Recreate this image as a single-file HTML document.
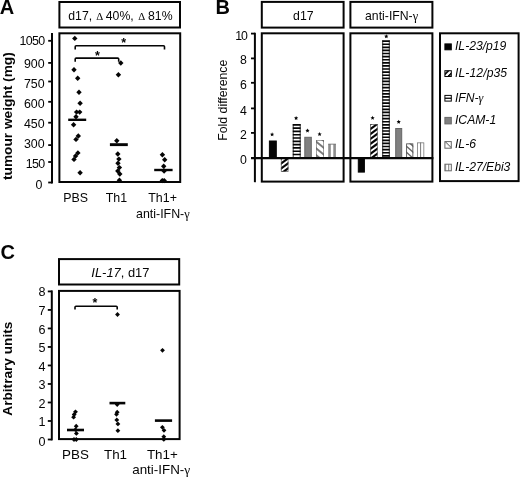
<!DOCTYPE html>
<html><head><meta charset="utf-8"><title>Figure</title>
<style>
html,body{margin:0;padding:0;background:#fff;}
body{width:520px;height:478px;overflow:hidden;font-family:"Liberation Sans",sans-serif;}
svg{display:block;will-change:transform;}
svg text{font-family:"Liberation Sans",sans-serif;fill:#050505;}
</style></head><body>
<svg width="520" height="478" viewBox="0 0 520 478">
<rect width="520" height="478" fill="#fff"/>
<defs>
<pattern id="pd2" width="20" height="5.5" patternUnits="userSpaceOnUse" patternTransform="translate(444.9 73) skewY(-45)"><rect width="20" height="5.5" fill="#fff"/><rect width="20" height="2.6" fill="#111"/></pattern>
<pattern id="pl2" width="20" height="8" patternUnits="userSpaceOnUse" patternTransform="translate(444.9 140.6) skewY(45)"><rect width="20" height="8" fill="#fff"/><rect width="20" height="1.4" fill="#777"/></pattern>
<pattern id="pv2" width="3.2" height="20" patternUnits="userSpaceOnUse" patternTransform="translate(444.9 0)"><rect width="3.2" height="20" fill="#fff"/><rect width="1.1" height="20" x="0" fill="#999"/></pattern>
</defs>
<text x="-0.20" y="14.30" font-size="20" text-anchor="start" font-weight="bold" font-style="normal">A</text>
<rect x="59.40" y="2.00" width="120.60" height="25.50" fill="none" stroke="#050505" stroke-width="2"/>
<text x="68.30" y="19.90" font-size="12.25" text-anchor="start" font-weight="normal" font-style="normal">d17,</text>
<text x="99.65" y="19.90" font-size="10.8" text-anchor="middle" font-weight="normal" font-style="normal" style="font-family:Liberation Serif,serif">Δ</text>
<text x="105.80" y="19.90" font-size="12.25" text-anchor="start" font-weight="normal" font-style="normal">40%,</text>
<text x="141.65" y="19.90" font-size="10.8" text-anchor="middle" font-weight="normal" font-style="normal" style="font-family:Liberation Serif,serif">Δ</text>
<text x="148.00" y="19.90" font-size="12.25" text-anchor="start" font-weight="normal" font-style="normal">81%</text>
<rect x="59.40" y="33.30" width="120.80" height="148.70" fill="none" stroke="#050505" stroke-width="2"/>
<line x1="52.00" y1="33.00" x2="52.00" y2="183.50" stroke="#050505" stroke-width="2"/>
<line x1="48.20" y1="182.50" x2="52.00" y2="182.50" stroke="#050505" stroke-width="1.8"/>
<text x="42.40" y="189.00" font-size="12.4" text-anchor="end" font-weight="normal" font-style="normal">0</text>
<line x1="48.20" y1="162.00" x2="52.00" y2="162.00" stroke="#050505" stroke-width="1.8"/>
<text x="44.60" y="168.30" font-size="12.4" text-anchor="end" font-weight="normal" font-style="normal" letter-spacing="-0.6">150</text>
<line x1="48.20" y1="145.10" x2="52.00" y2="145.10" stroke="#050505" stroke-width="1.8"/>
<text x="44.60" y="147.60" font-size="12.4" text-anchor="end" font-weight="normal" font-style="normal">300</text>
<line x1="48.20" y1="122.70" x2="52.00" y2="122.70" stroke="#050505" stroke-width="1.8"/>
<text x="44.60" y="128.10" font-size="12.4" text-anchor="end" font-weight="normal" font-style="normal">450</text>
<line x1="48.20" y1="101.80" x2="52.00" y2="101.80" stroke="#050505" stroke-width="1.8"/>
<text x="44.60" y="107.90" font-size="12.4" text-anchor="end" font-weight="normal" font-style="normal">600</text>
<line x1="48.20" y1="81.50" x2="52.00" y2="81.50" stroke="#050505" stroke-width="1.8"/>
<text x="44.60" y="87.90" font-size="12.4" text-anchor="end" font-weight="normal" font-style="normal">750</text>
<line x1="48.20" y1="62.90" x2="52.00" y2="62.90" stroke="#050505" stroke-width="1.8"/>
<text x="44.60" y="67.90" font-size="12.4" text-anchor="end" font-weight="normal" font-style="normal">900</text>
<line x1="48.20" y1="40.80" x2="52.00" y2="40.80" stroke="#050505" stroke-width="1.8"/>
<text x="44.60" y="44.60" font-size="12.4" text-anchor="end" font-weight="normal" font-style="normal" letter-spacing="-0.6">1050</text>
<text x="11.60" y="116.10" font-size="13.7" text-anchor="middle" font-weight="bold" font-style="normal" transform="rotate(-90 11.60 116.10)">tumour weight (mg)</text>
<path d="M74.80 35.70L77.50 38.40L74.80 41.10L72.10 38.40Z" fill="#050505"/>
<path d="M74.00 67.10L76.70 69.80L74.00 72.50L71.30 69.80Z" fill="#050505"/>
<path d="M77.70 75.60L80.40 78.30L77.70 81.00L75.00 78.30Z" fill="#050505"/>
<path d="M79.00 89.50L81.70 92.20L79.00 94.90L76.30 92.20Z" fill="#050505"/>
<path d="M80.10 100.50L82.80 103.20L80.10 105.90L77.40 103.20Z" fill="#050505"/>
<path d="M76.60 109.40L79.30 112.10L76.60 114.80L73.90 112.10Z" fill="#050505"/>
<path d="M79.70 109.40L82.40 112.10L79.70 114.80L77.00 112.10Z" fill="#050505"/>
<path d="M76.00 114.10L78.70 116.80L76.00 119.50L73.30 116.80Z" fill="#050505"/>
<path d="M73.60 122.00L76.30 124.70L73.60 127.40L70.90 124.70Z" fill="#050505"/>
<path d="M78.30 133.30L81.00 136.00L78.30 138.70L75.60 136.00Z" fill="#050505"/>
<path d="M76.00 136.70L78.70 139.40L76.00 142.10L73.30 139.40Z" fill="#050505"/>
<path d="M77.90 150.20L80.60 152.90L77.90 155.60L75.20 152.90Z" fill="#050505"/>
<path d="M75.60 153.30L78.30 156.00L75.60 158.70L72.90 156.00Z" fill="#050505"/>
<path d="M74.00 156.70L76.70 159.40L74.00 162.10L71.30 159.40Z" fill="#050505"/>
<path d="M80.10 170.00L82.80 172.70L80.10 175.40L77.40 172.70Z" fill="#050505"/>
<path d="M120.80 60.30L123.50 63.00L120.80 65.70L118.10 63.00Z" fill="#050505"/>
<path d="M118.40 72.00L121.10 74.70L118.40 77.40L115.70 74.70Z" fill="#050505"/>
<path d="M116.80 138.00L119.50 140.70L116.80 143.40L114.10 140.70Z" fill="#050505"/>
<path d="M117.80 151.30L120.50 154.00L117.80 156.70L115.10 154.00Z" fill="#050505"/>
<path d="M118.90 156.40L121.60 159.10L118.90 161.80L116.20 159.10Z" fill="#050505"/>
<path d="M118.00 160.50L120.70 163.20L118.00 165.90L115.30 163.20Z" fill="#050505"/>
<path d="M119.40 164.90L122.10 167.60L119.40 170.30L116.70 167.60Z" fill="#050505"/>
<path d="M117.80 168.30L120.50 171.00L117.80 173.70L115.10 171.00Z" fill="#050505"/>
<path d="M119.80 171.30L122.50 174.00L119.80 176.70L117.10 174.00Z" fill="#050505"/>
<path d="M119.40 177.60L122.10 180.30L119.40 183.00L116.70 180.30Z" fill="#050505"/>
<path d="M162.40 152.00L165.10 154.70L162.40 157.40L159.70 154.70Z" fill="#050505"/>
<path d="M164.70 157.10L167.40 159.80L164.70 162.50L162.00 159.80Z" fill="#050505"/>
<path d="M163.70 163.50L166.40 166.20L163.70 168.90L161.00 166.20Z" fill="#050505"/>
<path d="M164.10 168.30L166.80 171.00L164.10 173.70L161.40 171.00Z" fill="#050505"/>
<path d="M162.30 177.90L165.00 180.60L162.30 183.30L159.60 180.60Z" fill="#050505"/>
<path d="M164.20 177.90L166.90 180.60L164.20 183.30L161.50 180.60Z" fill="#050505"/>
<line x1="68.20" y1="119.80" x2="86.20" y2="119.80" stroke="#050505" stroke-width="2.4"/>
<line x1="109.90" y1="144.65" x2="127.80" y2="144.65" stroke="#050505" stroke-width="2.9"/>
<line x1="154.20" y1="170.00" x2="172.60" y2="170.00" stroke="#050505" stroke-width="2.4"/>
<path d="M75.20 49.40V46.80Q75.20 45.80 76.20 45.80H163.50Q164.50 45.80 164.50 46.80V49.40" fill="none" stroke="#050505" stroke-width="1.6"/>
<text x="123.70" y="47.46" font-size="12.5" text-anchor="middle" font-weight="bold" font-style="normal">*</text>
<path d="M75.20 61.70V59.10Q75.20 58.10 76.20 58.10H117.70Q118.70 58.10 118.70 59.10V61.70" fill="none" stroke="#050505" stroke-width="1.6"/>
<text x="97.40" y="59.56" font-size="12.5" text-anchor="middle" font-weight="bold" font-style="normal">*</text>
<text x="75.65" y="201.60" font-size="12.4" text-anchor="middle" font-weight="normal" font-style="normal">PBS</text>
<text x="116.40" y="201.60" font-size="12.4" text-anchor="middle" font-weight="normal" font-style="normal">Th1</text>
<text x="162.60" y="201.60" font-size="12.4" text-anchor="middle" font-weight="normal" font-style="normal">Th1+</text>
<text x="162.90" y="218.00" font-size="12.4" text-anchor="middle" font-weight="normal" font-style="normal">anti-IFN-<tspan font-family="Liberation Serif" font-style="normal">γ</tspan></text>
<text x="215.40" y="14.40" font-size="20" text-anchor="start" font-weight="bold" font-style="normal">B</text>
<rect x="261.80" y="1.90" width="81.80" height="25.70" fill="none" stroke="#050505" stroke-width="2"/>
<text x="303.30" y="20.30" font-size="12.25" text-anchor="middle" font-weight="normal" font-style="normal">d17</text>
<rect x="350.40" y="1.90" width="82.00" height="25.70" fill="none" stroke="#050505" stroke-width="2"/>
<text x="391.60" y="20.30" font-size="12.25" text-anchor="middle" font-weight="normal" font-style="normal">anti-IFN-<tspan font-family="Liberation Serif" font-style="normal">γ</tspan></text>
<rect x="261.80" y="33.30" width="81.80" height="148.30" fill="none" stroke="#050505" stroke-width="2"/>
<rect x="350.40" y="33.30" width="82.00" height="148.30" fill="none" stroke="#050505" stroke-width="2"/>
<line x1="254.90" y1="32.70" x2="254.90" y2="182.20" stroke="#050505" stroke-width="2"/>
<line x1="251.00" y1="158.10" x2="254.90" y2="158.10" stroke="#050505" stroke-width="1.8"/>
<text x="246.90" y="164.30" font-size="12.3" text-anchor="end" font-weight="normal" font-style="normal">0</text>
<line x1="251.00" y1="132.90" x2="254.90" y2="132.90" stroke="#050505" stroke-width="1.8"/>
<text x="246.90" y="139.20" font-size="12.3" text-anchor="end" font-weight="normal" font-style="normal">2</text>
<line x1="251.00" y1="108.40" x2="254.90" y2="108.40" stroke="#050505" stroke-width="1.8"/>
<text x="246.90" y="114.70" font-size="12.3" text-anchor="end" font-weight="normal" font-style="normal">4</text>
<line x1="251.00" y1="82.80" x2="254.90" y2="82.80" stroke="#050505" stroke-width="1.8"/>
<text x="246.90" y="88.70" font-size="12.3" text-anchor="end" font-weight="normal" font-style="normal">6</text>
<line x1="251.00" y1="58.40" x2="254.90" y2="58.40" stroke="#050505" stroke-width="1.8"/>
<text x="246.90" y="64.20" font-size="12.3" text-anchor="end" font-weight="normal" font-style="normal">8</text>
<line x1="251.00" y1="33.60" x2="254.90" y2="33.60" stroke="#050505" stroke-width="1.8"/>
<text x="246.90" y="39.60" font-size="12.3" text-anchor="end" font-weight="normal" font-style="normal" letter-spacing="-1">10</text>
<text x="226.60" y="100.20" font-size="12.3" text-anchor="middle" font-weight="normal" font-style="normal" transform="rotate(-90 226.60 100.20)">Fold difference</text>
<rect x="269.40" y="141.00" width="6.90" height="16.60" fill="#050505" stroke="#050505" stroke-width="1.0"/>
<clipPath id="c1"><rect x="280.90" y="158.10" width="7.50" height="13.60"/></clipPath>
<rect x="280.90" y="158.10" width="7.50" height="13.60" fill="#fff"/>
<g clip-path="url(#c1)" stroke="#050505" stroke-width="2.18"><line x1="279.90" y1="149.35" x2="289.40" y2="142.42"/><line x1="279.90" y1="154.35" x2="289.40" y2="147.42"/><line x1="279.90" y1="159.35" x2="289.40" y2="152.42"/><line x1="279.90" y1="164.35" x2="289.40" y2="157.42"/><line x1="279.90" y1="169.35" x2="289.40" y2="162.42"/><line x1="279.90" y1="174.35" x2="289.40" y2="167.42"/><line x1="279.90" y1="179.35" x2="289.40" y2="172.42"/></g>
<rect x="281.25" y="158.45" width="6.80" height="12.90" fill="none" stroke="#555" stroke-width="0.7"/>
<rect x="292.80" y="124.00" width="7.80" height="34.10" fill="#fff"/>
<path d="M292.80 124.00h7.80v1.65h-7.80zM292.80 127.30h7.80v1.65h-7.80zM292.80 130.60h7.80v1.65h-7.80zM292.80 133.90h7.80v1.65h-7.80zM292.80 137.20h7.80v1.65h-7.80zM292.80 140.50h7.80v1.65h-7.80zM292.80 143.80h7.80v1.65h-7.80zM292.80 147.10h7.80v1.65h-7.80zM292.80 150.40h7.80v1.65h-7.80zM292.80 153.70h7.80v1.65h-7.80zM292.80 157.00h7.80v1.10h-7.80z" fill="#050505"/>
<line x1="293.20" y1="124.00" x2="293.20" y2="158.10" stroke="#050505" stroke-width="0.8"/>
<line x1="300.20" y1="124.00" x2="300.20" y2="158.10" stroke="#050505" stroke-width="0.8"/>
<rect x="304.80" y="137.30" width="6.50" height="20.30" fill="#808080" stroke="#666" stroke-width="1.0"/>
<clipPath id="c2"><rect x="316.10" y="140.00" width="7.80" height="18.10"/></clipPath>
<rect x="316.10" y="140.00" width="7.80" height="18.10" fill="#fff"/>
<g clip-path="url(#c2)" stroke="#7a7a7a" stroke-width="1.95"><line x1="315.10" y1="127.16" x2="324.90" y2="135.00"/><line x1="315.10" y1="133.96" x2="324.90" y2="141.80"/><line x1="315.10" y1="140.76" x2="324.90" y2="148.60"/><line x1="315.10" y1="147.56" x2="324.90" y2="155.40"/><line x1="315.10" y1="154.36" x2="324.90" y2="162.20"/><line x1="315.10" y1="161.16" x2="324.90" y2="169.00"/><line x1="315.10" y1="167.96" x2="324.90" y2="175.80"/></g>
<rect x="316.40" y="140.30" width="7.20" height="17.50" fill="none" stroke="#666" stroke-width="0.6"/>
<rect x="328.2" y="144" width="7.7" height="14.1" fill="#fff"/><rect x="328.2" y="144" width="2.6" height="14.1" fill="#8c8c8c"/><rect x="333.3" y="144" width="2.6" height="14.1" fill="#8c8c8c"/><rect x="328.2" y="143.7" width="7.7" height="0.9" fill="#777"/>
<polygon points="272.10,132.30 272.72,133.65 274.19,133.82 273.10,134.82 273.39,136.28 272.10,135.55 270.81,136.28 271.10,134.82 270.01,133.82 271.48,133.65" fill="#050505"/>
<polygon points="296.10,115.90 296.72,117.25 298.19,117.42 297.10,118.42 297.39,119.88 296.10,119.15 294.81,119.88 295.10,118.42 294.01,117.42 295.48,117.25" fill="#050505"/>
<polygon points="307.50,128.40 308.12,129.75 309.59,129.92 308.50,130.92 308.79,132.38 307.50,131.65 306.21,132.38 306.50,130.92 305.41,129.92 306.88,129.75" fill="#050505"/>
<polygon points="319.60,132.10 320.22,133.45 321.69,133.62 320.60,134.62 320.89,136.08 319.60,135.35 318.31,136.08 318.60,134.62 317.51,133.62 318.98,133.45" fill="#050505"/>
<rect x="358.30" y="158.60" width="6.10" height="13.50" fill="#050505" stroke="#050505" stroke-width="1.0"/>
<clipPath id="c3"><rect x="370.20" y="124.10" width="7.40" height="34.00"/></clipPath>
<rect x="370.20" y="124.10" width="7.40" height="34.00" fill="#fff"/>
<g clip-path="url(#c3)" stroke="#050505" stroke-width="2.18"><line x1="369.20" y1="115.08" x2="378.60" y2="108.22"/><line x1="369.20" y1="120.03" x2="378.60" y2="113.17"/><line x1="369.20" y1="124.98" x2="378.60" y2="118.12"/><line x1="369.20" y1="129.93" x2="378.60" y2="123.07"/><line x1="369.20" y1="134.88" x2="378.60" y2="128.02"/><line x1="369.20" y1="139.83" x2="378.60" y2="132.97"/><line x1="369.20" y1="144.78" x2="378.60" y2="137.92"/><line x1="369.20" y1="149.73" x2="378.60" y2="142.87"/><line x1="369.20" y1="154.68" x2="378.60" y2="147.82"/><line x1="369.20" y1="159.63" x2="378.60" y2="152.77"/><line x1="369.20" y1="164.58" x2="378.60" y2="157.72"/></g>
<rect x="370.55" y="124.45" width="6.70" height="33.30" fill="none" stroke="#555" stroke-width="0.7"/>
<rect x="382.30" y="40.30" width="7.40" height="117.80" fill="#fff"/>
<path d="M382.30 40.30h7.40v1.65h-7.40zM382.30 43.40h7.40v1.65h-7.40zM382.30 46.50h7.40v1.65h-7.40zM382.30 49.60h7.40v1.65h-7.40zM382.30 52.70h7.40v1.65h-7.40zM382.30 55.80h7.40v1.65h-7.40zM382.30 58.90h7.40v1.65h-7.40zM382.30 62.00h7.40v1.65h-7.40zM382.30 65.10h7.40v1.65h-7.40zM382.30 68.20h7.40v1.65h-7.40zM382.30 71.30h7.40v1.65h-7.40zM382.30 74.40h7.40v1.65h-7.40zM382.30 77.50h7.40v1.65h-7.40zM382.30 80.60h7.40v1.65h-7.40zM382.30 83.70h7.40v1.65h-7.40zM382.30 86.80h7.40v1.65h-7.40zM382.30 89.90h7.40v1.65h-7.40zM382.30 93.00h7.40v1.65h-7.40zM382.30 96.10h7.40v1.65h-7.40zM382.30 99.20h7.40v1.65h-7.40zM382.30 102.30h7.40v1.65h-7.40zM382.30 105.40h7.40v1.65h-7.40zM382.30 108.50h7.40v1.65h-7.40zM382.30 111.60h7.40v1.65h-7.40zM382.30 114.70h7.40v1.65h-7.40zM382.30 117.80h7.40v1.65h-7.40zM382.30 120.90h7.40v1.65h-7.40zM382.30 124.00h7.40v1.65h-7.40zM382.30 127.10h7.40v1.65h-7.40zM382.30 130.20h7.40v1.65h-7.40zM382.30 133.30h7.40v1.65h-7.40zM382.30 136.40h7.40v1.65h-7.40zM382.30 139.50h7.40v1.65h-7.40zM382.30 142.60h7.40v1.65h-7.40zM382.30 145.70h7.40v1.65h-7.40zM382.30 148.80h7.40v1.65h-7.40zM382.30 151.90h7.40v1.65h-7.40zM382.30 155.00h7.40v1.65h-7.40z" fill="#050505"/>
<line x1="382.70" y1="40.30" x2="382.70" y2="158.10" stroke="#050505" stroke-width="0.8"/>
<line x1="389.30" y1="40.30" x2="389.30" y2="158.10" stroke="#050505" stroke-width="0.8"/>
<rect x="395.70" y="128.50" width="6.00" height="29.10" fill="#808080" stroke="#666" stroke-width="1.0"/>
<clipPath id="c4"><rect x="406.15" y="143.40" width="7.15" height="14.70"/></clipPath>
<rect x="406.15" y="143.40" width="7.15" height="14.70" fill="#fff"/>
<g clip-path="url(#c4)" stroke="#666" stroke-width="1.41"><line x1="405.15" y1="133.06" x2="414.30" y2="141.30"/><line x1="405.15" y1="139.06" x2="414.30" y2="147.30"/><line x1="405.15" y1="145.06" x2="414.30" y2="153.30"/><line x1="405.15" y1="151.06" x2="414.30" y2="159.30"/><line x1="405.15" y1="157.06" x2="414.30" y2="165.30"/><line x1="405.15" y1="163.06" x2="414.30" y2="171.30"/><line x1="405.15" y1="169.06" x2="414.30" y2="177.30"/></g>
<rect x="406.60" y="143.85" width="6.25" height="13.80" fill="none" stroke="#555" stroke-width="0.9"/>
<rect x="417.45" y="142.85" width="6.4" height="15.2" fill="#fff" stroke="#666" stroke-width="0.7"/><rect x="420.1" y="142.5" width="1" height="15.6" fill="#777"/>
<polygon points="372.60,115.80 373.22,117.15 374.69,117.32 373.60,118.32 373.89,119.78 372.60,119.05 371.31,119.78 371.60,118.32 370.51,117.32 371.98,117.15" fill="#050505"/>
<polygon points="386.30,34.20 386.92,35.55 388.39,35.72 387.30,36.72 387.59,38.18 386.30,37.45 385.01,38.18 385.30,36.72 384.21,35.72 385.68,35.55" fill="#050505"/>
<polygon points="398.70,119.70 399.32,121.05 400.79,121.22 399.70,122.22 399.99,123.68 398.70,122.95 397.41,123.68 397.70,122.22 396.61,121.22 398.08,121.05" fill="#050505"/>
<line x1="251.00" y1="158.10" x2="433.40" y2="158.10" stroke="#050505" stroke-width="2.2"/>
<rect x="440.00" y="33.30" width="78.60" height="147.80" fill="none" stroke="#050505" stroke-width="2"/>
<rect x="444.9" y="43.90" width="6.4" height="5.90" fill="#050505" stroke="#050505" stroke-width="1"/>
<text x="455.00" y="50.30" font-size="12.15" text-anchor="start" font-weight="normal" font-style="italic">IL-23/p19</text>
<rect x="444.9" y="70.70" width="6.4" height="5.80" fill="url(#pd2)" stroke="#050505" stroke-width="1"/>
<text x="455.00" y="77.00" font-size="12.15" text-anchor="start" font-weight="normal" font-style="italic" letter-spacing="0.1">IL-12/p35</text>
<rect x="444.9" y="95.40" width="6.4" height="5.70" fill="#fff" stroke="#050505" stroke-width="1"/>
<line x1="444.90" y1="98.25" x2="451.30" y2="98.25" stroke="#050505" stroke-width="1.3"/>
<text x="455.00" y="101.60" font-size="12.15" text-anchor="start" font-weight="normal" font-style="italic">IFN-<tspan font-family="Liberation Serif" font-style="italic">γ</tspan></text>
<rect x="444.9" y="117.40" width="6.4" height="6.50" fill="#808080" stroke="#666" stroke-width="1"/>
<text x="455.00" y="124.10" font-size="12.15" text-anchor="start" font-weight="normal" font-style="italic">ICAM-1</text>
<rect x="444.9" y="141.60" width="6.4" height="6.60" fill="url(#pl2)" stroke="#666" stroke-width="1"/>
<text x="455.00" y="148.20" font-size="12.15" text-anchor="start" font-weight="normal" font-style="italic">IL-6</text>
<rect x="444.9" y="164.20" width="6.4" height="6.60" fill="url(#pv2)" stroke="#666" stroke-width="1"/>
<text x="455.00" y="170.90" font-size="12.15" text-anchor="start" font-weight="normal" font-style="italic">IL-27/Ebi3</text>
<text x="0.60" y="258.80" font-size="20" text-anchor="start" font-weight="bold" font-style="normal">C</text>
<rect x="59.00" y="259.10" width="120.20" height="25.40" fill="none" stroke="#050505" stroke-width="2"/>
<text x="120.40" y="276.75" font-size="12.9" text-anchor="middle" font-weight="normal" font-style="normal"><tspan font-style="italic">IL-17</tspan>, d17</text>
<rect x="59.00" y="290.90" width="120.60" height="148.20" fill="none" stroke="#050505" stroke-width="2"/>
<line x1="51.80" y1="290.40" x2="51.80" y2="440.40" stroke="#050505" stroke-width="2"/>
<line x1="47.80" y1="439.50" x2="51.80" y2="439.50" stroke="#050505" stroke-width="1.8"/>
<text x="45.40" y="445.50" font-size="12.6" text-anchor="end" font-weight="normal" font-style="normal">0</text>
<line x1="47.80" y1="420.99" x2="51.80" y2="420.99" stroke="#050505" stroke-width="1.8"/>
<text x="45.40" y="426.19" font-size="12.6" text-anchor="end" font-weight="normal" font-style="normal">1</text>
<line x1="47.80" y1="402.48" x2="51.80" y2="402.48" stroke="#050505" stroke-width="1.8"/>
<text x="45.40" y="407.68" font-size="12.6" text-anchor="end" font-weight="normal" font-style="normal">2</text>
<line x1="47.80" y1="383.97" x2="51.80" y2="383.97" stroke="#050505" stroke-width="1.8"/>
<text x="45.40" y="389.17" font-size="12.6" text-anchor="end" font-weight="normal" font-style="normal">3</text>
<line x1="47.80" y1="365.46" x2="51.80" y2="365.46" stroke="#050505" stroke-width="1.8"/>
<text x="45.40" y="370.66" font-size="12.6" text-anchor="end" font-weight="normal" font-style="normal">4</text>
<line x1="47.80" y1="346.95" x2="51.80" y2="346.95" stroke="#050505" stroke-width="1.8"/>
<text x="45.40" y="352.15" font-size="12.6" text-anchor="end" font-weight="normal" font-style="normal">5</text>
<line x1="47.80" y1="328.44" x2="51.80" y2="328.44" stroke="#050505" stroke-width="1.8"/>
<text x="45.40" y="333.64" font-size="12.6" text-anchor="end" font-weight="normal" font-style="normal">6</text>
<line x1="47.80" y1="309.93" x2="51.80" y2="309.93" stroke="#050505" stroke-width="1.8"/>
<text x="45.40" y="315.13" font-size="12.6" text-anchor="end" font-weight="normal" font-style="normal">7</text>
<line x1="47.80" y1="291.42" x2="51.80" y2="291.42" stroke="#050505" stroke-width="1.8"/>
<text x="45.40" y="295.92" font-size="12.6" text-anchor="end" font-weight="normal" font-style="normal">8</text>
<text x="12.10" y="368.70" font-size="13.65" text-anchor="middle" font-weight="bold" font-style="normal" transform="rotate(-90 12.10 368.70)">Arbitrary units</text>
<path d="M117.50 312.10L119.90 314.50L117.50 316.90L115.10 314.50Z" fill="#050505"/>
<path d="M117.20 402.20L119.60 404.60L117.20 407.00L114.80 404.60Z" fill="#050505"/>
<path d="M117.20 409.80L119.60 412.20L117.20 414.60L114.80 412.20Z" fill="#050505"/>
<path d="M116.50 411.90L118.90 414.30L116.50 416.70L114.10 414.30Z" fill="#050505"/>
<path d="M116.80 417.50L119.20 419.90L116.80 422.30L114.40 419.90Z" fill="#050505"/>
<path d="M117.90 421.50L120.30 423.90L117.90 426.30L115.50 423.90Z" fill="#050505"/>
<path d="M117.90 428.30L120.30 430.70L117.90 433.10L115.50 430.70Z" fill="#050505"/>
<path d="M75.50 409.40L77.90 411.80L75.50 414.20L73.10 411.80Z" fill="#050505"/>
<path d="M74.20 412.10L76.60 414.50L74.20 416.90L71.80 414.50Z" fill="#050505"/>
<path d="M73.60 414.80L76.00 417.20L73.60 419.60L71.20 417.20Z" fill="#050505"/>
<path d="M76.20 423.80L78.60 426.20L76.20 428.60L73.80 426.20Z" fill="#050505"/>
<path d="M75.50 427.30L77.90 429.70L75.50 432.10L73.10 429.70Z" fill="#050505"/>
<path d="M76.40 431.00L78.80 433.40L76.40 435.80L74.00 433.40Z" fill="#050505"/>
<path d="M74.00 437.10L76.40 439.50L74.00 441.90L71.60 439.50Z" fill="#050505"/>
<path d="M76.30 437.10L78.70 439.50L76.30 441.90L73.90 439.50Z" fill="#050505"/>
<path d="M162.50 347.90L164.90 350.30L162.50 352.70L160.10 350.30Z" fill="#050505"/>
<path d="M162.40 424.90L164.80 427.30L162.40 429.70L160.00 427.30Z" fill="#050505"/>
<path d="M164.00 427.90L166.40 430.30L164.00 432.70L161.60 430.30Z" fill="#050505"/>
<path d="M163.80 434.30L166.20 436.70L163.80 439.10L161.40 436.70Z" fill="#050505"/>
<path d="M163.80 437.00L166.20 439.40L163.80 441.80L161.40 439.40Z" fill="#050505"/>
<line x1="109.50" y1="403.10" x2="125.30" y2="403.10" stroke="#050505" stroke-width="2.6"/>
<line x1="67.00" y1="430.00" x2="84.00" y2="430.00" stroke="#050505" stroke-width="2.6"/>
<line x1="154.90" y1="420.60" x2="172.10" y2="420.60" stroke="#050505" stroke-width="2.6"/>
<path d="M75.00 309.60V307.20Q75.00 306.20 76.00 306.20H116.20Q117.20 306.20 117.20 307.20V309.60" fill="none" stroke="#050505" stroke-width="1.6"/>
<text x="95.00" y="307.06" font-size="12.5" text-anchor="middle" font-weight="bold" font-style="normal">*</text>
<text x="75.50" y="458.70" font-size="13.4" text-anchor="middle" font-weight="normal" font-style="normal">PBS</text>
<text x="115.50" y="458.70" font-size="13.4" text-anchor="middle" font-weight="normal" font-style="normal">Th1</text>
<text x="162.35" y="458.70" font-size="13.4" text-anchor="middle" font-weight="normal" font-style="normal">Th1+</text>
<text x="161.20" y="474.20" font-size="13.4" text-anchor="middle" font-weight="normal" font-style="normal">anti-IFN-<tspan font-family="Liberation Serif" font-style="normal">γ</tspan></text>
</svg>
</body></html>
